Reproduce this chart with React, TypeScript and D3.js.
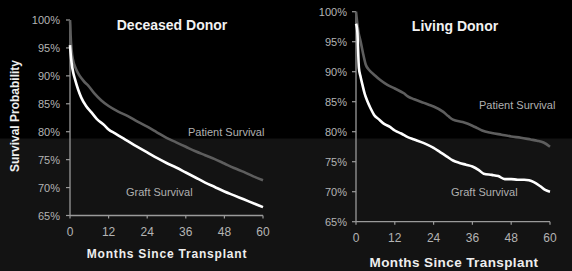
import React from "react";
import * as d3 from "d3";

const monthTicks = [0, 12, 24, 36, 48, 60];
const pctTicks = [65, 70, 75, 80, 85, 90, 95, 100];

const deceasedPatientMonths = [0, 0.1, 0.2, 0.5, 1, 1.6, 2.5, 3.5, 4.5, 5.6, 7.5, 9.75, 12, 15, 18, 21, 24, 27, 30, 33, 36, 39, 42, 45, 48, 51, 54, 57, 60];
const deceasedPatientValues = [100, 99, 97.2, 94.6, 92.7, 91.6, 90.5, 89.6, 88.9, 88.3, 86.9, 85.6, 84.6, 83.6, 82.8, 81.8, 80.9, 79.9, 78.9, 78.1, 77.3, 76.5, 75.8, 75.1, 74.3, 73.5, 72.8, 72.0, 71.3];

const deceasedGraftMonths = [0, 0.2, 0.5, 1, 1.5, 2.5, 3.5, 5, 6.6, 8.3, 10.8, 12, 14, 16.6, 20, 24, 27, 30, 33, 36, 39, 42, 45, 48, 51, 54, 57, 60];
const deceasedGraftValues = [95.5, 94, 92.3, 90.6, 89.5, 87.6, 86.1, 84.6, 83.5, 82.3, 81.1, 80.4, 79.7, 78.8, 77.6, 76.3, 75.3, 74.4, 73.6, 72.7, 71.8, 70.9, 70.1, 69.3, 68.6, 67.9, 67.2, 66.5];

const livingPatientMonths = [0, 0.3, 0.8, 1.4, 2.2, 3, 4.2, 5.6, 7.5, 9.7, 12, 14.8, 16, 18, 21, 22.5, 24, 27, 28.5, 30, 33, 36, 37.5, 39, 42, 45, 48, 51, 54, 56, 58, 60];
const livingPatientValues = [100, 98.5, 96.5, 95.1, 93, 91.2, 90.2, 89.5, 88.6, 87.8, 87.2, 86.4, 85.9, 85.4, 84.8, 84.5, 84.2, 83.3, 82.6, 82.0, 81.6, 81.0, 80.6, 80.2, 79.8, 79.5, 79.2, 79.0, 78.7, 78.5, 78.2, 77.5];

const livingGraftMonths = [0, 0.2, 0.4, 0.9, 1.4, 2, 2.7, 3.5, 4.5, 5.6, 7, 8.7, 10.5, 12, 14, 16, 18, 21, 24, 26, 28, 30, 32, 34, 36, 38, 39.5, 42, 44, 46, 48, 50, 52, 53.5, 55, 57, 58.5, 60];
const livingGraftValues = [98, 97.6, 96.8, 90.6, 89.2, 87.8, 86.3, 85.1, 83.9, 82.8, 82.1, 81.3, 80.8, 80.2, 79.7, 79.1, 78.7, 78.1, 77.3, 76.6, 75.9, 75.2, 74.8, 74.5, 74.2, 73.6, 73.0, 72.8, 72.6, 72.1, 72.1, 72.0, 72.0, 71.9, 71.6, 70.9, 70.3, 70.0];

type PanelProps = {
  title: string;
  x0: number; x1: number; yTop: number; yBot: number;
  titleX: number; titleY: number; titleSize: number;
  xTitleX: number; xTitleY: number; xTitleSize: number; xTitleSpacing: number;
  xLabelY: number; yLabelX: number;
  patientM: number[]; patientV: number[]; graftM: number[]; graftV: number[];
  patientLabel: [number, number]; graftLabel: [number, number];
};

function Panel(p: PanelProps) {
  const x = d3.scaleLinear().domain([0, 60]).range([p.x0, p.x1]);
  const y = d3.scaleLinear().domain([65, 100]).range([p.yBot, p.yTop]);
  const line = d3.line<[number, number]>().x(d => x(d[0])).y(d => y(d[1])).curve(d3.curveMonotoneX);
  const pat = line(p.patientM.map((m, i) => [m, p.patientV[i]]) as [number, number][]) || "";
  const gr = line(p.graftM.map((m, i) => [m, p.graftV[i]]) as [number, number][]) || "";
  const tickFont = "'Liberation Sans', Arial, sans-serif";
  return (
    <g>
      <text x={p.titleX} y={p.titleY} textAnchor="middle" dominantBaseline="central" fill="#f2f2f2" fontWeight="bold" fontSize={p.titleSize} fontFamily={tickFont}>{p.title}</text>
      <line x1={p.x0} x2={p.x0} y1={p.yTop} y2={p.yBot} stroke="#9a9a9a" strokeWidth={1.3} />
      <line x1={p.x0} x2={p.x1} y1={p.yBot} y2={p.yBot} stroke="#9a9a9a" strokeWidth={1.3} />
      {pctTicks.map(t => (
        <g key={"y" + t}>
          <line x1={p.x0 - 4} x2={p.x0} y1={y(t)} y2={y(t)} stroke="#9a9a9a" strokeWidth={1.2} />
          <text x={p.yLabelX} y={y(t)} textAnchor="end" dominantBaseline="central" fill="#b4b4b4" fontSize={11} fontFamily={tickFont}>{t + "%"}</text>
        </g>
      ))}
      {monthTicks.map(t => (
        <g key={"x" + t}>
          <line x1={x(t)} x2={x(t)} y1={p.yBot} y2={p.yBot + 3} stroke="#9a9a9a" strokeWidth={1.2} />
          <text x={x(t)} y={p.xLabelY} textAnchor="middle" dominantBaseline="central" fill="#b4b4b4" fontSize={12} fontFamily={tickFont}>{t}</text>
        </g>
      ))}
      <path d={pat} fill="none" stroke="#5e5e5e" strokeWidth={2.6} />
      <path d={gr} fill="none" stroke="#ffffff" strokeWidth={2.6} />
      <text x={p.patientLabel[0]} y={p.patientLabel[1]} dominantBaseline="central" fill="#b0b0b0" fontSize={11} fontFamily={tickFont}>Patient Survival</text>
      <text x={p.graftLabel[0]} y={p.graftLabel[1]} dominantBaseline="central" fill="#b0b0b0" fontSize={11} fontFamily={tickFont}>Graft Survival</text>
      <text x={p.xTitleX} y={p.xTitleY} textAnchor="middle" dominantBaseline="central" fill="#eeeeee" fontWeight="bold" fontSize={p.xTitleSize} letterSpacing={p.xTitleSpacing} fontFamily={tickFont}>Months Since Transplant</text>
    </g>
  );
}

export default function App() {
  return (
    <svg width={572} height={271} style={{ position: "absolute", left: 0, top: 0, display: "block" }}>
      <rect x={0} y={0} width={572} height={271} fill="#000" />
      <rect x={0} y={138.5} width={572} height={132.5} fill="#131313" />
      <text transform="translate(15,116) rotate(-90)" textAnchor="middle" dominantBaseline="central" fill="#eeeeee" fontWeight="bold" fontSize={12} fontFamily="'Liberation Sans', Arial, sans-serif">Survival Probability</text>
      <Panel title="Deceased Donor" x0={70} x1={263} yTop={20} yBot={215.5}
        titleX={172} titleY={25} titleSize={14}
        xTitleX={167} xTitleY={254} xTitleSize={12} xTitleSpacing={0.8}
        xLabelY={232} yLabelX={60}
        patientM={deceasedPatientMonths} patientV={deceasedPatientValues}
        graftM={deceasedGraftMonths} graftV={deceasedGraftValues}
        patientLabel={[188, 132]} graftLabel={[126, 192]} />
      <Panel title="Living Donor" x0={356} x1={550} yTop={11.7} yBot={221.7}
        titleX={455} titleY={26} titleSize={14}
        xTitleX={454} xTitleY={262} xTitleSize={13.5} xTitleSpacing={0.4}
        xLabelY={238} yLabelX={347}
        patientM={livingPatientMonths} patientV={livingPatientValues}
        graftM={livingGraftMonths} graftV={livingGraftValues}
        patientLabel={[479, 105]} graftLabel={[451, 192]} />
    </svg>
  );
}
